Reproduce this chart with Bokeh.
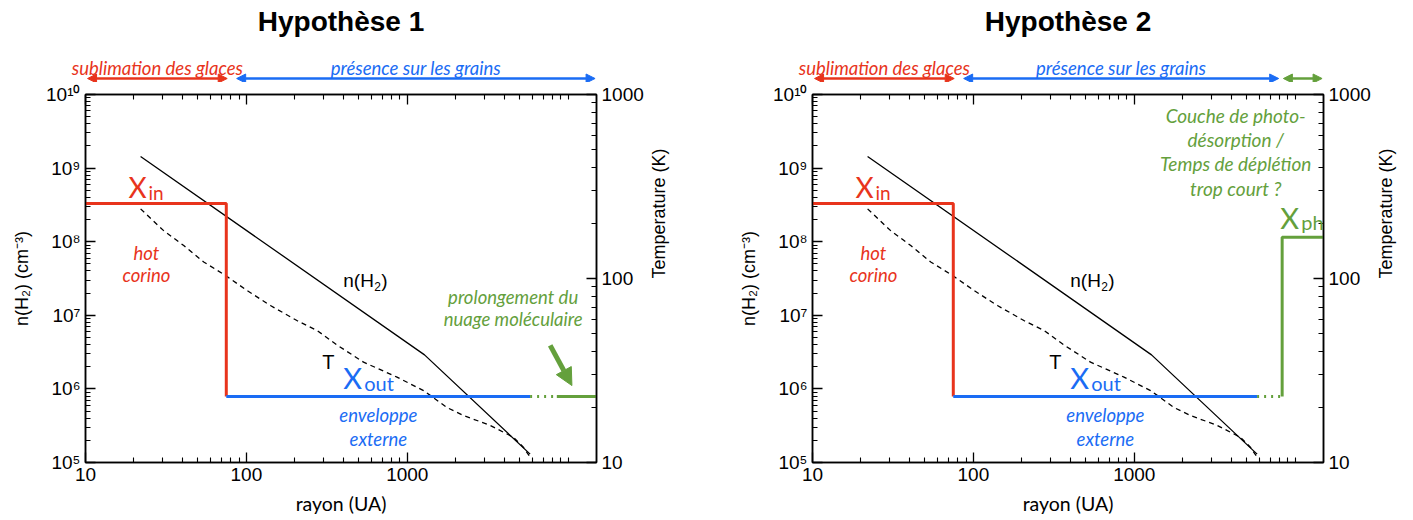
import math
from bokeh.plotting import figure
from bokeh.layouts import row, column
from bokeh.models import Range1d, LogScale, LogAxis, FixedTicker, Label, Arrow, NormalHead
from bokeh.embed import file_html
from bokeh.resources import INLINE

# ---------------- data ----------------
r_nH2 = [22, 1280, 5800]
nH2 = [1.44e9, 2.9e6, 1.3e5]

r_T = [22.0, 30.6, 40.8, 54.3, 74.1, 101, 141, 206, 275, 366, 535, 863,
       1263, 1765, 2240, 3280, 4575, 5270, 5800]
T_K = [239, 182, 151, 123, 104, 86, 71.3, 59.1, 52.2, 43.5, 35.1, 29.1,
       24.6, 19.9, 18.0, 15.9, 13.7, 12.1, 10.7]

X_in = 3.3e8
X_out = 7.9e5
X_ph = 1.15e8
r_inner = 10
r_sub = 75
r_env_end = 5800
r_cloud = 8500      # hypothesis 1: start of molecular cloud
r_ph = 8300         # hypothesis 2: start of photodesorption layer
r_outer = 15000

x_ticks = [10, 100, 1000]
x_tick_labels = ["10", "100", "1000"]
x_minor = [m * 10 ** e for e in (1, 2, 3) for m in range(2, 10)] + [10000]
y_ticks = [1e5, 1e6, 1e7, 1e8, 1e9, 1e10]
y_tick_labels = ["10⁵", "10⁶", "10⁷", "10⁸", "10⁹", "10¹⁰"]
y_minor = [m * 10 ** e for e in range(5, 10) for m in range(2, 10)]
T_ticks = [10, 100, 1000]
T_tick_labels = ["10", "100", "1000"]
T_minor = [m * 10 ** e for e in (1, 2) for m in range(2, 10)]

# zones (double arrows above the frame)
zones1 = [("sublimation des glaces", 10.3, 76, "red"),
          ("présence sur les grains", 87, 14700, "blue")]
zones2 = [("sublimation des glaces", 10.3, 76, "red"),
          ("présence sur les grains", 87, 7900, "blue"),
          ("", 8450, 14700, "green")]

RED = "#e8341c"
BLUE = "#1a6cf4"
GREEN = "#64a03c"
COL = {"red": RED, "blue": BLUE, "green": GREEN}

AX_FONT = "Liberation Sans"
ANN_FONT = "Lato"
IT = 18.5

FRAME_W = 511
FRAME_H = 368
TOP_FH = 46


def lab(p, x, y, text, color, size, font=ANN_FONT, style="normal",
        align="center", baseline="middle", xo=0, yo=0, yr="default"):
    p.add_layout(Label(x=x, y=y, text=text, text_color=color,
                       text_font_size=f"{size}px", text_font=font,
                       text_font_style=style, text_align=align,
                       text_baseline=baseline, x_offset=xo, y_offset=yo,
                       y_range_name=yr))


def make_top(title, zones, width, left_border):
    # strip centred on the main frame, with the same log mapping
    k = FRAME_W / math.log10(r_outer / r_inner)
    fw = int(2 * (left_border + FRAME_W / 2))
    x0 = r_inner * 10 ** (-left_border / k)
    x1 = r_inner * 10 ** ((fw - left_border) / k)
    t = figure(frame_width=fw, frame_height=TOP_FH, x_axis_type="log",
               x_range=Range1d(x0, x1), y_range=Range1d(0, TOP_FH),
               x_axis_location=None, y_axis_location=None,
               min_border_left=0, min_border_right=width - fw,
               min_border_bottom=0, min_border_top=36, output_backend="svg",
               toolbar_location=None, outline_line_color=None,
               background_fill_color="white", border_fill_color="white",
               title=title, frame_align=False)
    t.grid.visible = False
    t.title.align = "center"
    t.title.text_color = "black"
    t.title.text_font = AX_FONT
    t.title.text_font_size = "28px"
    t.title.text_font_style = "bold"
    t.title.standoff = 0
    for text, a, b, c in zones:
        col = COL[c]
        t.add_layout(Arrow(x_start=a, y_start=4, x_end=b, y_end=4,
                           line_color=col, line_width=2.5,
                           start=NormalHead(size=9, fill_color=col, line_color=col),
                           end=NormalHead(size=9, fill_color=col, line_color=col)))
        if text:
            lab(t, (a * b) ** 0.5, 15, text, col, IT, style="italic")
    return t


def make(hyp, border_left, border_right):
    p = figure(frame_width=FRAME_W, frame_height=FRAME_H, x_axis_type="log",
               y_axis_type="log", x_range=Range1d(r_inner, r_outer),
               y_range=Range1d(1e5, 1e10), output_backend="svg",
               toolbar_location=None, min_border_left=border_left,
               min_border_right=border_right, min_border_top=12,
               min_border_bottom=56, background_fill_color="white",
               border_fill_color="white", title=None)
    p.extra_y_ranges = {"T": Range1d(10, 1000)}
    p.extra_y_scales = {"T": LogScale()}
    p.xgrid.visible = False
    p.ygrid.visible = False
    p.outline_line_color = "black"
    p.outline_line_width = 1.5

    def style_axis(ax, size=19):
        ax.major_tick_in = 10
        ax.major_tick_out = 0
        ax.minor_tick_in = 5
        ax.minor_tick_out = 0
        ax.axis_line_width = 1.5
        ax.major_tick_line_width = 1.3
        ax.minor_tick_line_width = 1.1
        ax.major_label_text_font = AX_FONT
        ax.major_label_text_font_size = f"{size}px"
        ax.major_label_text_color = "black"
        ax.axis_label_text_font_style = "normal"
        ax.axis_label_text_color = "black"

    xb = p.xaxis[0]
    xb.ticker = FixedTicker(ticks=x_ticks, minor_ticks=x_minor)
    xb.major_label_overrides = dict(zip(x_ticks, x_tick_labels))
    style_axis(xb)
    xb.axis_label = "rayon (UA)"
    xb.axis_label_text_font = ANN_FONT
    xb.axis_label_text_font_size = "19.5px"
    xb.axis_label_standoff = 8

    xa = LogAxis(ticker=FixedTicker(ticks=x_ticks, minor_ticks=x_minor))
    style_axis(xa)
    xa.major_label_text_font_size = "2px"
    xa.major_label_text_color = None
    xa.major_label_standoff = 0
    p.add_layout(xa, "above")

    yl = p.yaxis[0]
    yl.ticker = FixedTicker(ticks=y_ticks, minor_ticks=y_minor)
    yl.major_label_overrides = dict(zip(y_ticks, y_tick_labels))
    style_axis(yl)
    yl.axis_label = "n(H₂) (cm⁻³)"
    yl.axis_label_text_font = AX_FONT
    yl.axis_label_text_font_size = "18px"
    yl.axis_label_standoff = 11

    yr = LogAxis(y_range_name="T",
                 ticker=FixedTicker(ticks=T_ticks, minor_ticks=T_minor))
    yr.major_label_overrides = dict(zip(T_ticks, T_tick_labels))
    style_axis(yr)
    yr.axis_label = "Temperature (K)"
    yr.axis_label_text_font = AX_FONT
    yr.axis_label_text_font_size = "18px"
    yr.axis_label_standoff = 12
    yr.axis_label_orientation = math.pi / 2
    p.add_layout(yr, "right")

    # physical profiles
    p.line(r_nH2, nH2, line_color="black", line_width=1.3)
    p.line(r_T, T_K, line_color="black", line_width=1.3, line_dash="5 4",
           y_range_name="T")

    # abundance profile
    p.line([r_inner, r_sub, r_sub], [X_in, X_in, X_out], line_color=RED,
           line_width=3)
    p.line([r_sub, r_env_end], [X_out, X_out], line_color=BLUE, line_width=3)
    if hyp == 1:
        p.line([r_env_end, r_cloud], [X_out, X_out], line_color=GREEN,
               line_width=3, line_dash="2 5")
        p.line([r_cloud, r_outer], [X_out, X_out], line_color=GREEN,
               line_width=3)
    else:
        p.line([r_env_end, r_ph], [X_out, X_out], line_color=GREEN,
               line_width=3, line_dash="2 5")
        p.line([r_ph, r_ph, r_outer], [X_out, X_ph, X_ph], line_color=GREEN,
               line_width=3)

    # annotations
    lab(p, 18.5, 10 ** 8.747, "X", RED, 28, align="left")
    lab(p, 18.5, 10 ** 8.747, "in", RED, 19, align="left", xo=20, yo=-6)
    lab(p, 23.9, 10 ** 7.853, "hot", RED, IT, style="italic")
    lab(p, 23.9, 10 ** 7.554, "corino", RED, IT, style="italic")

    lab(p, 400, 10 ** 7.473, "n(H", "black", 19, font=AX_FONT, align="left")
    lab(p, 400, 10 ** 7.473, "2", "black", 12, font=AX_FONT, align="left",
        xo=31, yo=-6)
    lab(p, 400, 10 ** 7.473, ")", "black", 19, font=AX_FONT, align="left",
        xo=38)
    lab(p, 323, 10 ** 6.36, "T", "black", 20, font=AX_FONT)

    lab(p, 400, 10 ** 6.158, "X", BLUE, 29, align="left")
    lab(p, 400, 10 ** 6.158, "out", BLUE, 20, align="left", xo=21, yo=-6)
    lab(p, 661, 10 ** 5.639, "enveloppe", BLUE, IT, style="italic")
    lab(p, 661, 10 ** 5.326, "externe", BLUE, IT, style="italic")

    if hyp == 1:
        lab(p, 4550, 10 ** 7.242, "prolongement du", GREEN, IT, style="italic")
        lab(p, 4550, 10 ** 6.943, "nuage moléculaire", GREEN, IT, style="italic")
        p.add_layout(Arrow(x_start=7730, y_start=3.9e6, x_end=10550, y_end=1.11e6,
                           line_color=GREEN, line_width=5,
                           end=NormalHead(size=17, fill_color=GREEN,
                                          line_color=GREEN)))
    else:
        lines = ["Couche de photo-", "désorption /", "Temps de déplétion",
                 "trop court ?"]
        ys = [9.715, 9.389, 9.062, 8.723]
        for t, ly in zip(lines, ys):
            lab(p, 4270, 10 ** ly, t, GREEN, 19, style="italic")
        lab(p, 8070, 10 ** 8.331, "X", GREEN, 29, align="left")
        lab(p, 8070, 10 ** 8.331, "ph", GREEN, 20, align="left", xo=21, yo=-5)
    return p


BL1, BR1 = 85, 139
BL2, BR2 = 77, 88
W1 = BL1 + FRAME_W + BR1
W2 = BL2 + FRAME_W + BR2

top1 = make_top("Hypothèse 1", zones1, W1, BL1)
top2 = make_top("Hypothèse 2", zones2, W2, BL2)
p1 = make(1, BL1, BR1)
p2 = make(2, BL2, BR2)
layout = row(column(top1, p1), column(top2, p2))
open("out.html", "w").write(file_html(layout, INLINE))
